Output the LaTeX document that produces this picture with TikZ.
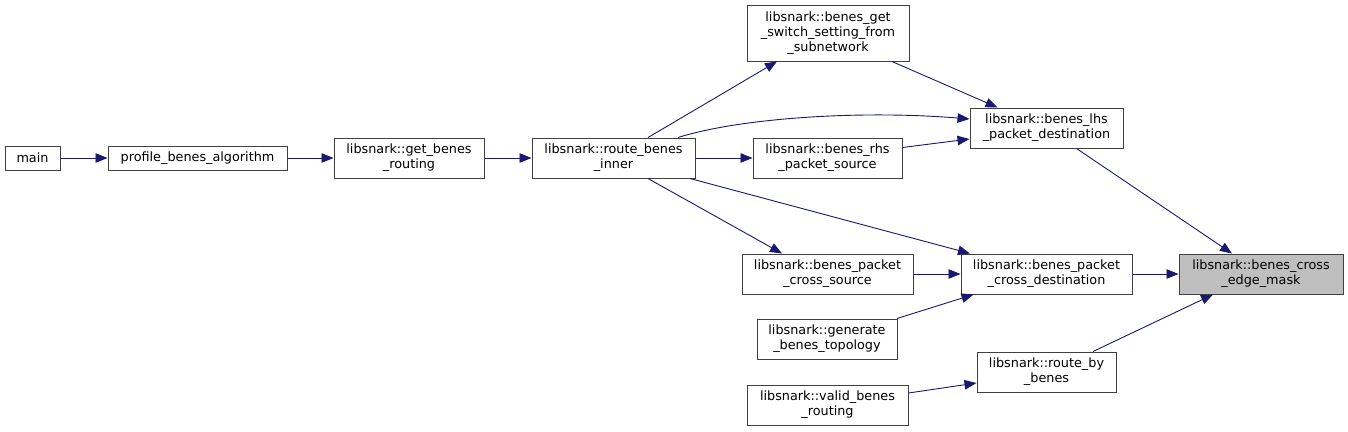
\documentclass[tikz,border=0pt]{standalone}
\usepackage{fontspec}
\setmainfont{DejaVu Sans}
\usetikzlibrary{arrows.meta}
\definecolor{edgeblue}{HTML}{191970}
\definecolor{boxline}{HTML}{404040}
\definecolor{hl}{HTML}{BFBFBF}
\tikzset{
  box/.style={draw=boxline, line width=1pt, fill=white, align=center, inner sep=0pt,
    font=\fontsize{12.8}{15}\selectfont, text=black},
  call/.style={draw=edgeblue, line width=0.9pt, -{Triangle[length=12pt,width=9.5pt]}}
}
\begin{document}
\begin{tikzpicture}[x=1pt,y=-1pt]
\useasboundingbox[fill=white] (0,0) rectangle (1348,431);
\node[box, minimum width=55, minimum height=24] (main) at (32.5,158) {main};
\node[box, minimum width=179, minimum height=24] (profile) at (197.5,158) {profile\_benes\_algorithm};
\node[box, minimum width=150, minimum height=40] (get) at (409,158) {libsnark::get\_benes\\\_routing};
\node[box, minimum width=163, minimum height=40] (inner) at (613.5,158) {libsnark::route\_benes\\\_inner};
\node[box, minimum width=162, minimum height=56] (switch) at (828,33) {libsnark::benes\_get\\\_switch\_setting\_from\\\_subnetwork};
\node[box, minimum width=153, minimum height=40] (lhs) at (1046.5,128) {libsnark::benes\_lhs\\\_packet\_destination};
\node[box, minimum width=149, minimum height=40] (rhs) at (827.5,158) {libsnark::benes\_rhs\\\_packet\_source};
\node[box, minimum width=171, minimum height=40] (csrc) at (827.5,274) {libsnark::benes\_packet\\\_cross\_source};
\node[box, minimum width=171, minimum height=40] (cdst) at (1046.5,274) {libsnark::benes\_packet\\\_cross\_destination};
\node[box, minimum width=140, minimum height=40] (gen) at (827,339) {libsnark::generate\\\_benes\_topology};
\node[box, minimum width=139, minimum height=40] (rby) at (1046.5,372) {libsnark::route\_by\\\_benes};
\node[box, minimum width=161, minimum height=40] (valid) at (827.5,405) {libsnark::valid\_benes\\\_routing};
\node[box, fill=hl, minimum width=164, minimum height=40] (mask) at (1261,274) {libsnark::benes\_cross\\\_edge\_mask};

\draw[call] (main.east) -- (profile.west);
\draw[call] (profile.east) -- (get.west);
\draw[call] (get.east) -- (inner.west);
\draw[call] ([xshift=34.5pt]inner.north) -- ([xshift=-51pt]switch.south);
\draw[call] ([xshift=64.5pt]inner.north) .. controls (740,118) and (860,110) .. ([yshift=9pt]lhs.west);
\draw[call] (inner.east) -- (rhs.west);
\draw[call] ([xshift=34.5pt]inner.south) -- ([xshift=-45.5pt]csrc.north);
\draw[call] ([xshift=76.5pt]inner.south) -- ([xshift=-76.5pt]cdst.north);
\draw[call] ([xshift=64pt]switch.south) -- ([xshift=-49pt]lhs.north);
\draw[call] ([yshift=10.5pt]rhs.east) -- ([yshift=-11pt]lhs.west);
\draw[call] ([xshift=30pt]lhs.south) -- ([xshift=-29pt]mask.north);
\draw[call] (csrc.east) -- (cdst.west);
\draw[call] ([xshift=70pt]gen.north) -- ([xshift=-73pt]cdst.south);
\draw[call] (cdst.east) -- (mask.west);
\draw[call] ([xshift=46.5pt]rby.north) -- ([xshift=-48pt]mask.south);
\draw[call] ([yshift=12pt]valid.east) -- ([yshift=-11pt]rby.west);
\end{tikzpicture}
\end{document}
